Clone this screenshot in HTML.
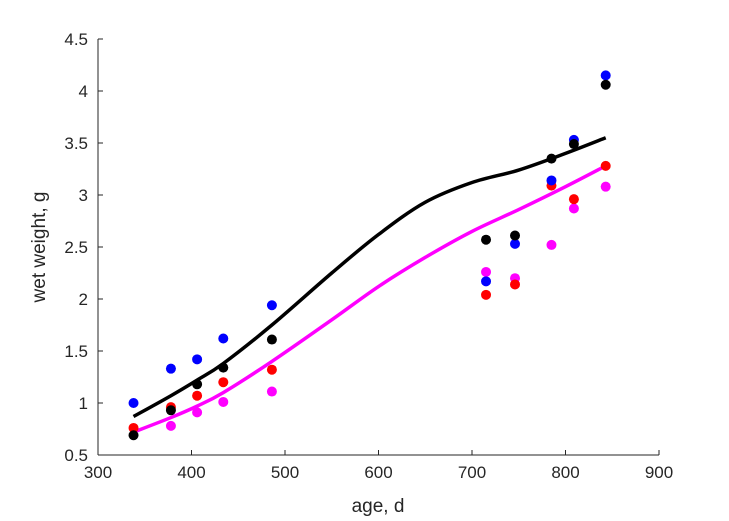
<!DOCTYPE html>
<html><head><meta charset="utf-8"><style>body{margin:0;background:#fff}svg{display:block;font-family:"Liberation Sans",sans-serif}</style></head>
<body>
<svg id="c" width="729" height="521"></svg>
<script>
const ages=[338,378,406,434,486,715,746,785,809,843];
const blueVals=[1.0,1.33,1.42,1.62,1.94,2.17,2.53,3.14,3.53,4.15];
const blackVals=[0.69,0.93,1.18,1.34,1.61,2.57,2.61,3.35,3.49,4.06];
const redVals=[0.76,0.96,1.07,1.20,1.32,2.04,2.14,3.09,2.96,3.28];
const magAges=[378,406,434,486,715,746,785,809,843];
const magVals=[0.78,0.91,1.01,1.11,2.26,2.20,2.52,2.87,3.08];
const curveAges=[338,378,406,434,486,550,600,650,700,750,800,843];
const blackCurve=[0.87,1.07,1.22,1.38,1.75,2.25,2.62,2.93,3.12,3.24,3.40,3.55];
const magCurve=[0.72,0.86,0.97,1.10,1.40,1.80,2.12,2.40,2.65,2.86,3.08,3.28];
const xTicks=[300,400,500,600,700,800,900];
const yTicks=[0.5,1,1.5,2,2.5,3,3.5,4,4.5];
const X=v=>98+(v-300)/600*561, Y=v=>455-(v-0.5)/4*416;
const s=document.getElementById('c'),NS='http://www.w3.org/2000/svg';
function mk(t,a,p){const e=document.createElementNS(NS,t);for(const k in a)e.setAttribute(k,a[k]);(p||s).appendChild(e);return e;}
let e=mk('path',{d:'M98,455H659M98,455V39',stroke:'#262626',fill:'none','stroke-width':1});


xTicks.forEach(t=>{mk('line',{x1:X(t),x2:X(t),y1:455,y2:450,stroke:'#262626'});
 const l=mk('text',{x:X(t),y:478,'text-anchor':'middle','font-size':17,fill:'#262626'});l.textContent=t;
 
 });
yTicks.forEach(t=>{mk('line',{x1:98,x2:103,y1:Y(t),y2:Y(t),stroke:'#262626'});
 const l=mk('text',{x:88,y:Y(t)+6,'text-anchor':'end','font-size':17,fill:'#262626'});l.textContent=t;
 
 });
let xt=mk('text',{x:378,y:512,'text-anchor':'middle','font-size':19,fill:'#262626'});xt.textContent='age, d';


let yt=mk('text',{x:0,y:0,'text-anchor':'middle','font-size':19,fill:'#262626',transform:'translate(45,247) rotate(-90)'});yt.textContent='wet weight, g';


function line(xs,ys,c,n){
 const P=xs.map((x,i)=>[X(x),Y(ys[i])]);
 let d='M'+P[0][0]+','+P[0][1];
 for(let i=0;i<P.length-1;i++){
  const p0=P[Math.max(0,i-1)],p1=P[i],p2=P[i+1],p3=P[Math.min(P.length-1,i+2)];
  const c1=[p1[0]+(p2[0]-p0[0])/6,p1[1]+(p2[1]-p0[1])/6];
  const c2=[p2[0]-(p3[0]-p1[0])/6,p2[1]-(p3[1]-p1[1])/6];
  d+='C'+c1[0]+','+c1[1]+' '+c2[0]+','+c2[1]+' '+p2[0]+','+p2[1];
 }
 const p=mk('path',{d:d,stroke:c,'stroke-width':3.5,fill:'none','stroke-linejoin':'round'});
 
 }
line(curveAges,blackCurve,'#000','black-fit-line');
line(curveAges,magCurve,'#f0f','magenta-fit-line');
function pts(xs,ys,c,n){xs.forEach((x,i)=>{const d=mk('circle',{cx:X(x),cy:Y(ys[i]),r:5,fill:c});
 
 });}
pts(magAges,magVals,'#f0f','magenta-point');
pts(ages,redVals,'#f00','red-point');
pts(ages,blueVals,'#00f','blue-point');
pts(ages,blackVals,'#000','black-point');
</script>
</body></html>
